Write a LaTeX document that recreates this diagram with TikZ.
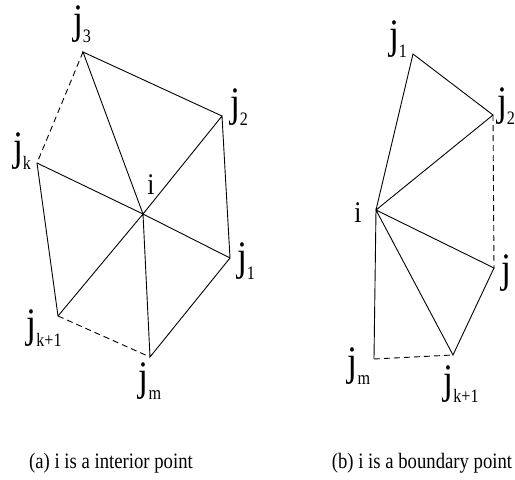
\documentclass[tikz,border=0pt]{standalone}
\usepackage{fontspec}
\setmainfont{Liberation Serif}
\newfontfamily\narrowserif[FakeStretch=0.85]{Liberation Serif}
\usetikzlibrary{positioning}

\newcommand{\jname}[1]{{\fontsize{42}{42}\selectfont j}\raisebox{-9pt}{\fontsize{19}{19}\selectfont #1}}

\begin{document}
\begin{tikzpicture}[
    x=1pt, y=-1pt,
    edge/.style={draw=black, line width=0.9pt},
    gap/.style={draw=black, line width=0.9pt, dash pattern=on 6pt off 4pt},
    vlab/.style={inner sep=0pt, anchor=base, font=\narrowserif},
    ilab/.style={inner sep=0pt, anchor=base, font=\narrowserif\fontsize{30}{30}\selectfont},
    caption/.style={inner sep=0pt, anchor=base, font=\narrowserif\fontsize{22}{22}\selectfont}
]
\useasboundingbox (0,0) rectangle (515,480);

% (a) interior point
\coordinate (ai) at (143,214);
\coordinate (aj3) at (83,52);
\coordinate (aj2) at (222,116);
\coordinate (ajk) at (37,163);
\coordinate (aj1) at (230,258);
\coordinate (ajk1) at (58,316);
\coordinate (ajm) at (150,357);

\draw [edge] (ajk) -- (ajk1);
\draw [edge] (ajk1) -- (ai) -- (aj2) -- (aj1) -- (ajm) -- (ai) -- (aj3) -- (aj2);
\draw [edge] (ajk) -- (ai) -- (aj1);
\draw [gap] (aj3) -- (ajk);
\draw [gap] (ajk1) -- (ajm);

\node (laj3) [vlab] at (82,33) {\jname{3}};
\node (laj2) [vlab] at (239,116) {\jname{2}};
\node (lajk) [vlab] at (22,160) {\jname{k}};
\node (lai) [ilab] at (151,194) {i};
\node (laj1) [vlab] at (246,270) {\jname{1}};
\node (lajk1) [vlab] at (44,337) {\jname{k+1}};
\node (lajm) [vlab] at (150,390) {\jname{m}};

% (b) boundary point
\coordinate (bi) at (376,210);
\coordinate (bj1) at (413,54);
\coordinate (bj2) at (493,115);
\coordinate (bj) at (494,268);
\coordinate (bjk1) at (453,355);
\coordinate (bjm) at (374,359);

\draw [edge] (bi) -- (bj1) -- (bj2) -- (bi) -- (bj) -- (bjk1) -- (bi) -- (bjm);
\draw [gap] (bj2) -- (bj);
\draw [gap] (bjm) -- (bjk1);

\node (lbj1) [vlab] at (398,48) {\jname{1}};
\node (lbj2) [vlab] at (506,115) {\jname{2}};
\node (lbi) [ilab] at (358,222) {i};
\node (lbj) [vlab, anchor=base west] at (501,282) {{\fontsize{42}{42}\selectfont j}};
\node (lbjm) [vlab] at (359,375) {\jname{m}};
\node (lbjk1) [vlab] at (461,393) {\jname{k+1}};

% captions
\node (capa) [caption] at (111,468) {(a) i is a interior point};
\node (capb) [caption] at (422,468) {(b) i is a boundary point};

\end{tikzpicture}
\end{document}
